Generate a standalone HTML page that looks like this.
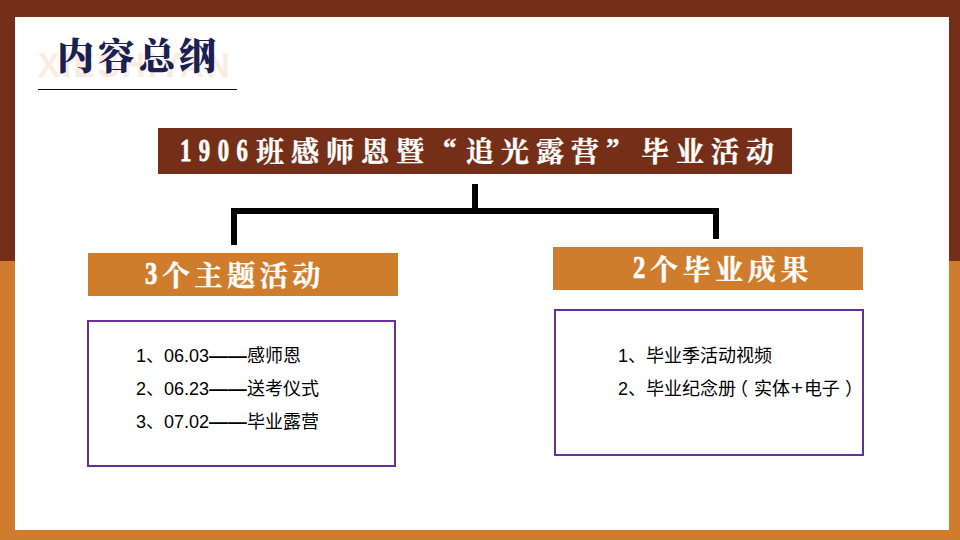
<!DOCTYPE html>
<html lang="zh-CN">
<head>
<meta charset="utf-8">
<title>内容总纲</title>
<style>
  html, body { margin: 0; padding: 0; font-family: "Liberation Sans", "Noto Sans CJK SC", sans-serif; }
  body { width: 960px; height: 540px; overflow: hidden; background: #752f18; position: relative;
         font-family: "Liberation Sans", "Noto Sans CJK SC", sans-serif; }
  .abs { position: absolute; }
  #bg-bottom { left: 0; top: 261px; width: 960px; height: 279px; background: #cf7d2c; }
  #panel { left: 15px; top: 17px; width: 934px; height: 513px; background: #ffffff; }
  .serif { font-family: "Liberation Serif", "Noto Serif CJK SC", serif; font-weight: 700; -webkit-text-stroke: 0.35px currentColor; white-space: nowrap; }
  #wm { left: 38px; top: 45px; font-family: "Liberation Sans", sans-serif; font-weight: bold; font-size: 35px;
        line-height: 40px; color: #fcebe0; letter-spacing: 2.6px; white-space: nowrap;
        transform: scaleX(0.93); transform-origin: 0 50%; }
  #title { left: 57px; top: 32px; font-size: 37px; line-height: 52px; letter-spacing: 3.7px; color: #1c1f52;
           font-weight: 900; -webkit-text-stroke: 0; }
  #rule { left: 38px; top: 89px; width: 199px; height: 1px; background: #0a0a14; }
  #main { left: 158px; top: 128px; width: 634px; height: 46px; background: #752f18; }
  #main .cjk { left: 23px; top: 2px; line-height: 46px; font-size: 28px; letter-spacing: 7px; color: #fff; }
  #main .q { display: inline-block; box-sizing: border-box; width: 28px; margin-right: 7px; letter-spacing: 0; line-height: 0; font-size: 27px; position: relative; top: -5.5px; }
  #main .ql { text-align: right; padding-right: 2.5px; }
  #main .qr { text-align: left; padding-left: 0; }
  .dg { display: inline-block; line-height: 0; letter-spacing: 0;
        position: relative; transform-origin: 0 50%; -webkit-text-stroke: 0.8px currentColor; }
  #main .dg { width: 76px; margin-left: -1px; font-size: 31.5px; letter-spacing: 10.4px; transform: scaleX(0.72); top: -1px; }
  .ln { background: #000; }
  .orange { background: #cf7d2c; width: 310px; height: 43px; }
  .orange .cjk { top: 2px; line-height: 43px; font-size: 28px; letter-spacing: 4.6px; color: #fff; }
  .orange .dg { width: 17px; font-size: 31px; transform: scaleX(0.8); -webkit-text-stroke: 0.7px currentColor; top: -2px; }
  .box { border: 2px solid #662f9a; box-sizing: border-box; background: #fff; }
  .item { font-size: 18px; line-height: 33px; color: #000; white-space: nowrap; }
  .item .c { line-height: 0; }
  .item .pl { position: relative; left: -6px; }
  .item .pr { position: relative; left: 5px; }
  .item .plus { font-size: 21px; line-height: 0; margin: 0 0.8px; }
  .item .d { display: inline-block; width: 38px; font-weight: 700; position: relative; top: 0; transform: scaleX(1.05); transform-origin: 0 50%; }
</style>
</head>
<body>
<div class="abs" id="bg-bottom"></div>
<div class="abs" id="panel"></div>

<div class="abs" id="wm">XIESHIYAN</div>
<div class="abs serif" id="title">内容总纲</div>
<div class="abs" id="rule"></div>

<div class="abs" id="main"><span class="abs serif cjk"><span class="dg">1906</span>班感师恩暨<span class="q ql">“</span>追光露营<span class="q qr">”</span>毕业活动</span></div>

<div class="abs ln" style="left:472px;top:184px;width:6px;height:30px"></div>
<div class="abs ln" style="left:231px;top:208px;width:488px;height:6px"></div>
<div class="abs ln" style="left:231px;top:208px;width:6px;height:37px"></div>
<div class="abs ln" style="left:713px;top:208px;width:6px;height:31px"></div>

<div class="abs orange" style="left:88px;top:253px"><span class="abs serif cjk" style="left:57px"><span class="dg">3</span>个主题活动</span></div>
<div class="abs orange" style="left:553px;top:247px"><span class="abs serif cjk" style="left:80px"><span class="dg">2</span>个毕业成果</span></div>

<div class="abs box" style="left:87px;top:320px;width:309px;height:147px"></div>
<div class="abs item" style="left:136px;top:340px">1、06.03<span class="c d">——</span>感师恩</div>
<div class="abs item" style="left:136px;top:373px">2、06.23<span class="c d">——</span>送考仪式</div>
<div class="abs item" style="left:136px;top:406px">3、07.02<span class="c d">——</span>毕业露营</div>

<div class="abs box" style="left:554px;top:309px;width:310px;height:147px"></div>
<div class="abs item" style="left:618px;top:340px">1、毕业季活动视频</div>
<div class="abs item" style="left:618px;top:373px">2、毕业纪念册<span class="c pl">（</span>实体<span class="plus">+</span>电子<span class="c pr">）</span></div>
</body>
</html>
